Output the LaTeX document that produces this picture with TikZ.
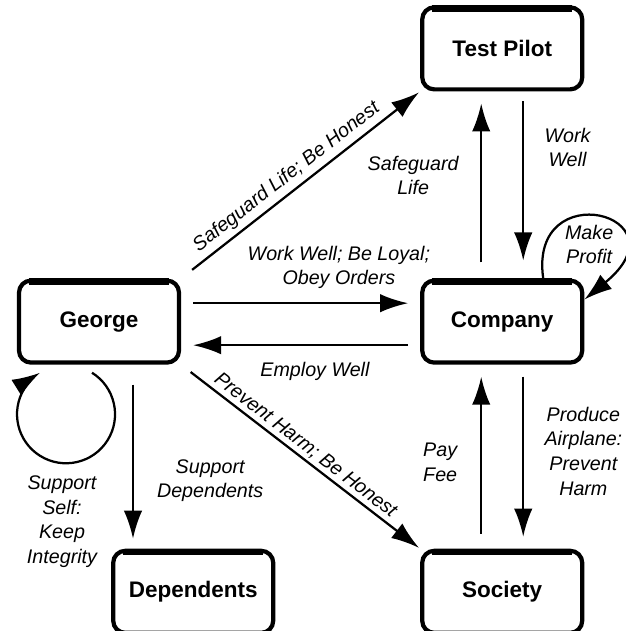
\documentclass[tikz,border=0pt]{standalone}
\usepackage{fontspec}
\setmainfont{Liberation Sans}
\usetikzlibrary{arrows.meta,positioning}

\begin{document}
\begin{tikzpicture}[node distance=4.6cm, auto,
    block/.style={rectangle, draw, line width=3pt, rounded corners=0.3cm, minimum width=4cm, minimum height=2.05cm, text centered, font=\bfseries\fontsize{16}{19}\selectfont,
        append after command={([yshift=-2.2pt]\tikzlastnode.north west) edge[line width=4.5pt, shorten <=0.3cm, shorten >=0.3cm] ([yshift=-2.2pt]\tikzlastnode.north east)}},
    line/.style={draw, line width=1.6pt, -{Latex[length=7mm,width=4.6mm]}, shorten <=0.3cm, shorten >=0.3cm},
    tag/.style={font=\itshape\fontsize{14}{17.5}\selectfont, align=center}]

    \useasboundingbox (0,0) rectangle (15.625,-15.775);

    \node [block] at (2.475,-8.04) (george) {George};
    \node [block, right=5.975cm of george] (company) {Company};
    \node [block, above=4.675cm of company] (pilot) {Test Pilot};
    \node [block, below=4.6cm of company] (society) {Society};
    \node [block, below right=4.6cm and -1.75cm of george] (dep) {Dependents};

    \path [line, shorten >=1pt, shorten <=0.35cm] (george.north east) -- node [tag, sloped, above, pos=0.48] {Safeguard Life; Be Honest} (pilot.south west);
    \path [line, shorten <=0.4cm] ([xshift=-0.525cm]company.north) -- node [tag, left=12pt, pos=0.55] {Safeguard\\Life} ([xshift=-0.525cm]pilot.south);
    \path [line, shorten <=0.25cm, shorten >=0.45cm] ([xshift=0.525cm]pilot.south) -- node [tag, right=11pt, pos=0.3] {Work\\Well} ([xshift=0.525cm]company.north);
    \path [line, shorten <=0pt, shorten >=0pt] ([xshift=1.025cm]company.north) .. controls +(-0.375,2.625) and +(2.6,2.125) .. ([yshift=0.55cm]company.east) node [tag, pos=0.5, below=1pt, xshift=-0.2cm] {Make\\Profit};

    \path [line] ([yshift=0.46cm]george.east) -- node [tag, above=6pt, pos=0.66] {Work Well; Be Loyal;\\Obey Orders} ([yshift=0.46cm]company.west);
    \path [line] ([yshift=-0.59cm]company.west) -- node [tag, below=8pt, pos=0.44] {Employ Well} ([yshift=-0.59cm]george.east);

    \path [line, shorten <=0pt, shorten >=0pt] ([xshift=-0.175cm, yshift=-0.2cm]george.south) arc [start angle=58, end angle=-238, radius=1.225cm];
    \node [tag, below=2.65cm of george.south, xshift=-0.925cm] (self) {Support\\Self:\\Keep\\Integrity};
    \path [line, shorten <=0.5cm, shorten >=0.25cm] ([xshift=0.85cm]george.south) -- node [tag, right=13pt, pos=0.63] {Support\\Dependents} ([xshift=0.85cm]george.south |- dep.north);
    \path [line, shorten >=1pt] (george.south east) -- node [tag, sloped, above, inner sep=2pt, pos=0.49] {Prevent Harm; Be Honest} (society.north west);

    \path [line, shorten <=0.375cm] ([xshift=-0.525cm]society.north) -- node [tag, left=13pt, pos=0.47] {Pay\\Fee} ([xshift=-0.525cm]company.south);
    \path [line] ([xshift=0.525cm]company.south) -- node [tag, right=11pt, pos=0.47] {Produce\\Airplane:\\Prevent\\Harm} ([xshift=0.525cm]society.north);
\end{tikzpicture}
\end{document}
